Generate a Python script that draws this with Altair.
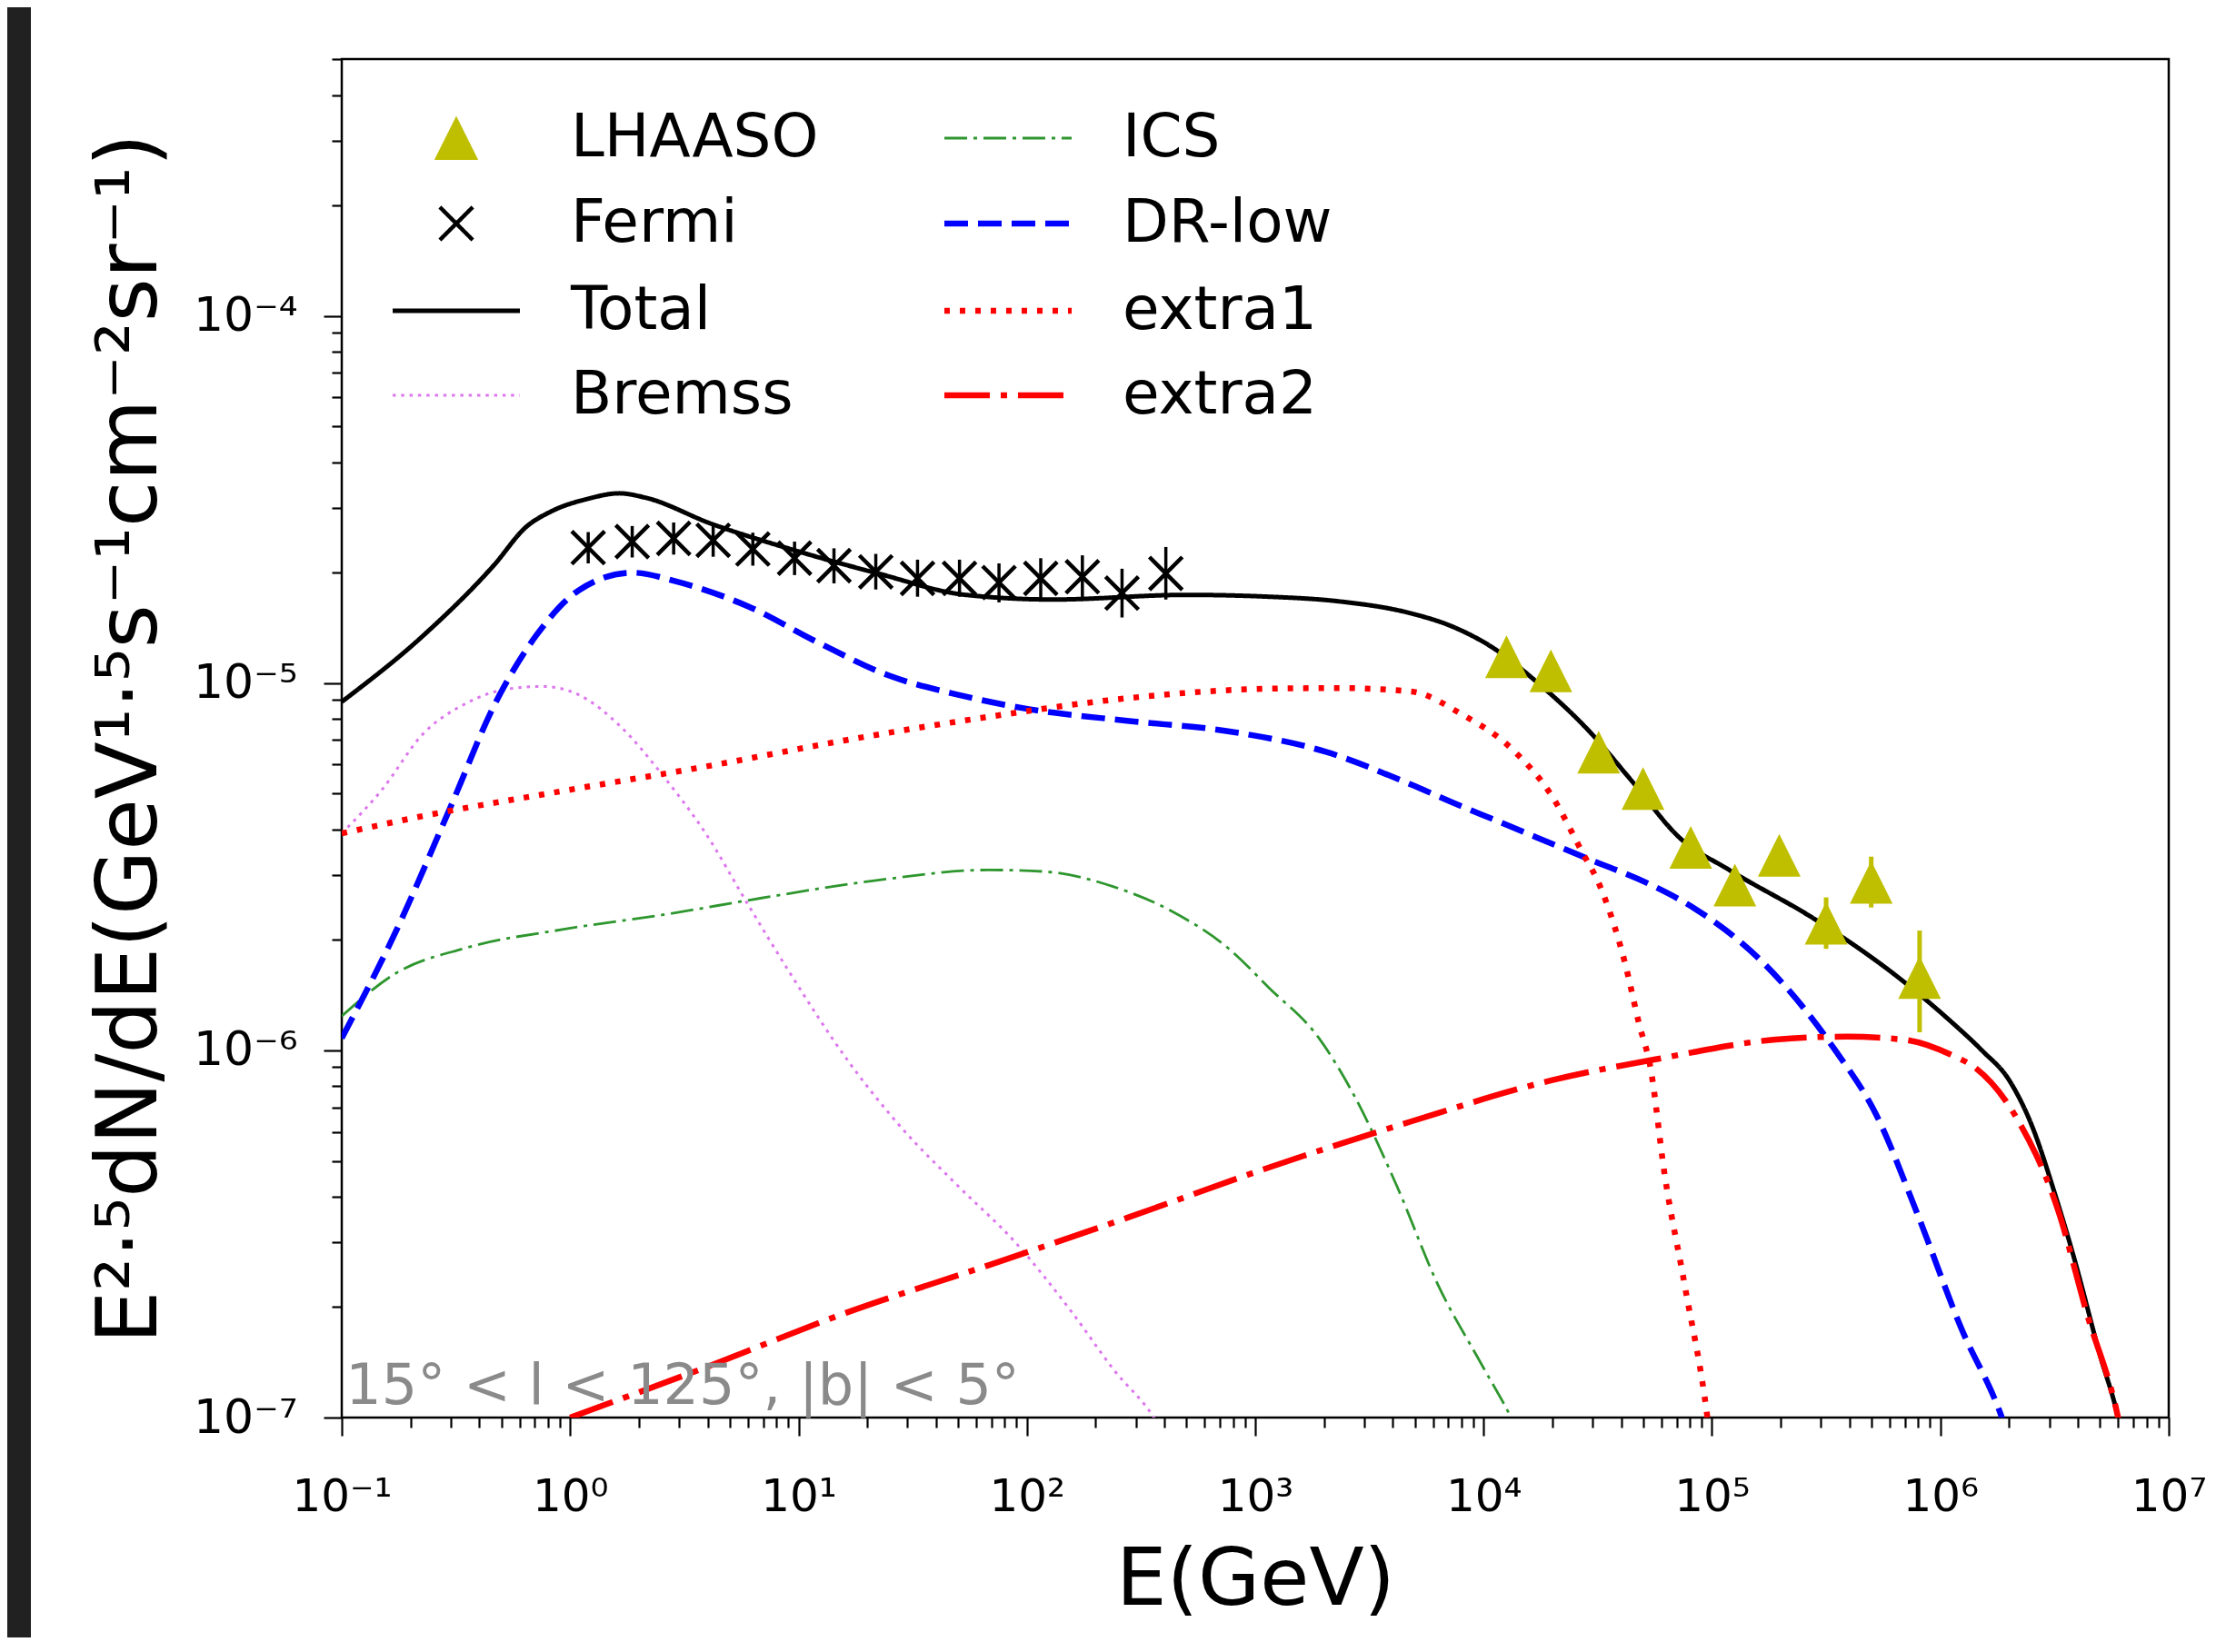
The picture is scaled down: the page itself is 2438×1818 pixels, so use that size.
import json
import altair as alt
import pandas as pd

# ---------------- series / styles ----------------
SERIES = ["LHAASO", "Fermi", "Total", "Bremss", "ICS", "DR-low", "extra1", "extra2"]
COLORS = ["#bfbf00", "#000000", "#000000", "#dd77ee", "#2e962e", "#0000ff", "#ff0000", "#ff0000"]
TRIANGLE = "M0,-1L1,1L-1,1Z"
CROSS = "M-0.77,-0.77L0.77,0.77M0.77,-0.77L-0.77,0.77"
HANDLE = "M-2.98,0L2.98,0"
SHAPES = [TRIANGLE, CROSS, HANDLE, HANDLE, HANDLE, HANDLE, HANDLE, HANDLE]
DASHES = [[1, 0], [1, 0], [1, 0], [3.5, 5.8], [25, 7, 4, 7], [26, 11], [6, 11], [50, 12, 7, 12]]
WIDTHS = [1, 4.5, 5, 3, 2.8, 6.5, 6.5, 6.5]

# ---------------- model curves ----------------
TOTAL_E = [0.1, 0.228, 0.465, 0.644, 0.82, 1.2, 1.64, 2.14, 4.14, 9.2, 22.3, 54, 131, 496, 1150, 2340,
           4800, 7230, 11400, 16700, 29300, 44500, 72600, 119000, 284000, 681000, 1110000, 1520000,
           2000000, 2500000, 3200000, 3800000, 5000000, 6000000, 7000000]
TOTAL_F = [8.9e-6, 1.35e-5, 2.1e-5, 2.67e-5, 2.93e-5, 3.18e-5, 3.29e-5, 3.2e-5, 2.72e-5, 2.32e-5,
           1.99e-5, 1.74e-5, 1.69e-5, 1.74e-5, 1.72e-5, 1.67e-5, 1.55e-5, 1.43e-5, 1.23e-5, 1.02e-5,
           7.35e-6, 5.42e-6, 3.78e-6, 3.10e-6, 2.27e-6, 1.55e-6, 1.2e-6, 1.0e-6,
           8.3e-7, 6.3e-7, 4.0e-7, 2.8e-7, 1.48e-7, 1.0e-7, 6e-8]

BREMSS_E = [0.1, 0.149, 0.228, 0.349, 0.537, 0.764, 1.09, 1.67, 2.55, 3.92, 6.0, 9.2, 16.2, 28.6,
            50, 89, 158, 240, 360, 420]
BREMSS_F = [3.9e-6, 5.1e-6, 7.3e-6, 8.8e-6, 9.65e-6, 9.8e-6, 9.3e-6, 7.6e-6, 5.6e-6, 3.9e-6,
            2.5e-6, 1.62e-6, 9.5e-7, 6.1e-7, 4.27e-7, 3.0e-7, 1.93e-7, 1.35e-7, 1.0e-7, 8.5e-8]

ICS_E = [0.1, 0.172, 0.349, 0.95, 2.55, 6.9, 21.5, 68, 118, 240, 427, 760, 1150, 1900, 2690,
         4170, 6310, 9770, 13200, 15000]
ICS_F = [1.24e-6, 1.62e-6, 1.9e-6, 2.14e-6, 2.34e-6, 2.6e-6, 2.9e-6, 3.1e-6, 3.07e-6, 2.79e-6,
         2.4e-6, 1.9e-6, 1.48e-6, 1.08e-6, 7.6e-7, 4.27e-7, 2.3e-7, 1.4e-7, 1.0e-7, 8.5e-8]

DR_E = [0.1, 0.172, 0.302, 0.465, 0.711, 1.09, 1.87, 2.94, 6.0, 12.2, 24.8, 50, 102, 275, 760,
        2040, 4800, 7210, 11200, 29200, 53700, 83500, 168000, 339000, 525000, 794000, 1230000,
        1860000, 2240000]
DR_F = [1.08e-6, 2.1e-6, 4.66e-6, 8.7e-6, 1.35e-5, 1.79e-5, 2.0e-5, 1.89e-5, 1.62e-5, 1.29e-5,
        1.05e-5, 9.3e-6, 8.5e-6, 7.9e-6, 7.4e-6, 6.5e-6, 5.3e-6, 4.75e-6, 4.24e-6, 3.31e-6, 2.83e-6,
        2.44e-6, 1.73e-6, 1.02e-6, 6.66e-7, 3.58e-7, 1.76e-7, 1.0e-7, 7e-8]

EXTRA1_E = [0.1, 0.228, 0.95, 3.92, 16.2, 68, 275, 1150, 2340, 4800, 8020, 13550, 19900, 26800,
            32500, 37400, 41600, 47800, 54000, 61700, 75900, 95500, 105000]
EXTRA1_F = [3.9e-6, 4.35e-6, 5.1e-6, 5.93e-6, 7.0e-6, 8.1e-6, 9.1e-6, 9.66e-6, 9.7e-6, 9.5e-6,
            8.23e-6, 6.55e-6, 4.93e-6, 3.50e-6, 2.78e-6, 2.18e-6, 1.73e-6, 1.19e-6, 8.85e-7,
            4.7e-7, 2.3e-7, 1.0e-7, 6e-8]

EXTRA2_E = [1.0, 3.92, 16.2, 68, 275, 1150, 4800, 20000, 58900, 190000, 390000, 690000, 1150000,
            1410000, 2140000, 3310000, 4370000, 6000000, 7000000]
EXTRA2_F = [1.0e-7, 1.37e-7, 1.93e-7, 2.6e-7, 3.5e-7, 4.8e-7, 6.4e-7, 8.3e-7, 9.5e-7, 1.07e-6,
            1.09e-6, 1.07e-6, 9.64e-7, 9.0e-7, 6.6e-7, 3.6e-7, 1.93e-7, 1.0e-7, 6e-8]

# ---------------- measurements ----------------
FERMI_E = [1.2, 1.87, 2.84, 4.23, 6.31, 9.61, 14.3, 21.8, 33.2, 50.7, 75.5, 115, 175, 261, 406]
FERMI_F = [2.34e-5, 2.43e-5, 2.48e-5, 2.45e-5, 2.32e-5, 2.19e-5, 2.09e-5, 2.01e-5, 1.93e-5,
           1.93e-5, 1.88e-5, 1.93e-5, 1.95e-5, 1.76e-5, 1.99e-5]
FERMI_LO = [2.12e-5, 2.20e-5, 2.24e-5, 2.21e-5, 2.09e-5, 1.97e-5, 1.87e-5, 1.80e-5, 1.72e-5,
            1.72e-5, 1.66e-5, 1.70e-5, 1.71e-5, 1.51e-5, 1.69e-5]
FERMI_HI = [2.58e-5, 2.68e-5, 2.74e-5, 2.72e-5, 2.57e-5, 2.43e-5, 2.33e-5, 2.25e-5, 2.17e-5,
            2.17e-5, 2.12e-5, 2.19e-5, 2.23e-5, 2.05e-5, 2.35e-5]

LHAASO_E = [1.26e4, 1.97e4, 3.19e4, 4.99e4, 8.07e4, 1.26e5, 1.97e5, 3.16e5, 4.98e5, 8.11e5]
LHAASO_F = [1.18e-5, 1.08e-5, 6.49e-6, 5.17e-6, 3.57e-6, 2.82e-6, 3.40e-6, 2.22e-6, 2.87e-6, 1.58e-6]
LHAASO_LO = [1.13e-5, 1.03e-5, 6.2e-6, 4.9e-6, 3.35e-6, 2.6e-6, 3.1e-6, 1.89e-6, 2.45e-6, 1.12e-6]
LHAASO_HI = [1.23e-5, 1.13e-5, 6.8e-6, 5.45e-6, 3.8e-6, 3.05e-6, 3.7e-6, 2.61e-6, 3.37e-6, 2.12e-6]

# ---------------- axes / text ----------------
X_MIN, X_MAX = 0.1, 1e7
Y_MIN, Y_MAX = 1e-7, 5.01e-4
X_TITLE = "E(GeV)"
Y_TITLE = "E²·⁵dN/dE(GeV¹·⁵s⁻¹cm⁻²sr⁻¹)"
SUPS = ["⁻⁷", "⁻⁶", "⁻⁵", "⁻⁴", "⁻³", "⁻²", "⁻¹", "⁰", "¹", "²", "³", "⁴", "⁵", "⁶", "⁷"]
ANN_TEXT = "15° < l < 125°, |b| < 5°"
ANN_E, ANN_F = 0.104, 1.09e-7

X_TICKS = [m * 10.0 ** k for k in range(-1, 7) for m in range(1, 10)] + [1e7]
Y_TICKS = [v for v in (m * 10.0 ** k for k in range(-7, -3) for m in range(1, 10)) if v <= Y_MAX]

FONT = "DejaVu Sans"
W, H = 2010, 1495

# legend layout (2 columns x 4 rows)
LEG_COL_X = [53, 660]
LEG_ROW_Y = [54, 148, 244, 337]
LEG_POS = {"LHAASO": (0, 0), "Fermi": (0, 1), "Total": (0, 2), "Bremss": (0, 3),
           "ICS": (1, 0), "DR-low": (1, 1), "extra1": (1, 2), "extra2": (1, 3)}

MAJOR = "abs(log(datum.value) / LN10 - round(log(datum.value) / LN10)) < 0.01"
LABEL_EXPR = (f"{MAJOR} ? '10' + {json.dumps(SUPS, ensure_ascii=False)}"
              f"[round(log(datum.value) / LN10) + 7] : ''")
TICK_SIZE = {"condition": {"test": MAJOR, "value": 20}, "value": 11}

x_scale = alt.Scale(type="log", domain=[X_MIN, X_MAX], nice=False)
y_scale = alt.Scale(type="log", domain=[Y_MIN, Y_MAX], nice=False)

x_axis = alt.Axis(values=X_TICKS, labelExpr=LABEL_EXPR, tickSize=TICK_SIZE, title=X_TITLE,
                  labelFontSize=50, labelPadding=82, labelBaseline="alphabetic",
                  labelFlush=False, labelOverlap=False, titleFontSize=88,
                  titleX=W / 2, titleY=205, titleBaseline="alphabetic", titleAlign="center")
y_axis = alt.Axis(values=Y_TICKS, labelExpr=LABEL_EXPR, tickSize=TICK_SIZE, title=Y_TITLE,
                  labelFontSize=52, labelPadding=29, labelOverlap=False, titleFontSize=92,
                  titleX=-233, titleY=H / 2, titleAngle=-90, titleBaseline="middle",
                  titleAlign="center")


def legend_for(name):
    i = SERIES.index(name)
    col, row = LEG_POS[name]
    return alt.Legend(
        title=None, orient="none", legendX=LEG_COL_X[col], legendY=LEG_ROW_Y[row], padding=0,
        symbolType=SHAPES[i], symbolSize=2209, symbolStrokeWidth=WIDTHS[i],
        symbolDash=DASHES[i], symbolOffset=40, labelOffset=93, labelLimit=0,
        symbolStrokeColor=COLORS[i], symbolFillColor=COLORS[i] if name == "LHAASO" else "transparent",
        symbolOpacity=1, labelFont=FONT, labelFontSize=66, labelColor="black",
    )


def xy(yfield="F"):
    return dict(
        x=alt.X("E:Q", scale=x_scale, axis=x_axis),
        y=alt.Y(f"{yfield}:Q", scale=y_scale, axis=y_axis),
    )


def enc(name):
    i = SERIES.index(name)
    return dict(
        **xy(),
        color=alt.Color("series:N", scale=alt.Scale(domain=[name], range=[COLORS[i]]),
                        legend=legend_for(name)),
    )


def line_layer(name, E, F):
    i = SERIES.index(name)
    df = pd.DataFrame({"E": E, "F": F, "series": name})
    return alt.Chart(df).mark_line(
        clip=True, strokeDash=DASHES[i], strokeWidth=WIDTHS[i], strokeCap="butt",
        interpolate="monotone"
    ).encode(**enc(name))


band = alt.Chart(alt.Data(values=[{}])).mark_rect(color="#212121").encode(
    x=alt.value(-368), x2=alt.value(-342), y=alt.value(-57), y2=alt.value(H + 242)
)

total = line_layer("Total", TOTAL_E, TOTAL_F)
bremss = line_layer("Bremss", BREMSS_E, BREMSS_F)
ics = line_layer("ICS", ICS_E, ICS_F)
drlow = line_layer("DR-low", DR_E, DR_F)
extra1 = line_layer("extra1", EXTRA1_E, EXTRA1_F)
extra2 = line_layer("extra2", EXTRA2_E, EXTRA2_F)

fermi_df = pd.DataFrame({"E": FERMI_E, "F": FERMI_F, "lo": FERMI_LO, "hi": FERMI_HI, "series": "Fermi"})
lhaaso_df = pd.DataFrame({"E": LHAASO_E, "F": LHAASO_F, "lo": LHAASO_LO, "hi": LHAASO_HI,
                          "series": "LHAASO"})

fermi_err = alt.Chart(fermi_df).mark_rule(strokeWidth=3.5, color=COLORS[1]).encode(
    **xy("lo"), y2="hi:Q")
fermi_pts = alt.Chart(fermi_df).mark_point(
    shape=CROSS, size=2209, filled=False, strokeWidth=WIDTHS[1], opacity=1
).encode(**enc("Fermi"))

lhaaso_err = alt.Chart(lhaaso_df).mark_rule(strokeWidth=5, color=COLORS[0]).encode(
    **xy("lo"), y2="hi:Q")
lhaaso_pts = alt.Chart(lhaaso_df).mark_point(
    shape=TRIANGLE, size=2209, filled=True, strokeWidth=1, opacity=1
).encode(**enc("LHAASO"))

ann = alt.Chart(pd.DataFrame({"E": [ANN_E], "F": [ANN_F], "t": [ANN_TEXT]})).mark_text(
    align="left", baseline="alphabetic", font=FONT, fontSize=62, color="#8a8a8a"
).encode(**xy(), text="t:N")

chart = alt.layer(
    band, total, bremss, ics, drlow, extra1, extra2,
    fermi_err, fermi_pts, lhaaso_err, lhaaso_pts, ann
).resolve_scale(
    color="independent"
).properties(
    width=W, height=H,
    autosize=alt.AutoSizeParams(type="none"),
    padding={"left": 368, "top": 57, "right": 44, "bottom": 242},
    background="white",
).configure_view(
    stroke="black", strokeWidth=2.5
).configure_axis(
    grid=False, domain=False, tickColor="black", tickWidth=2.2,
    labelFont=FONT, labelColor="black", titleFont=FONT, titleColor="black",
    titleFontWeight="normal",
)

chart.save("out.html", embed_options={"renderer": "svg", "actions": False})
